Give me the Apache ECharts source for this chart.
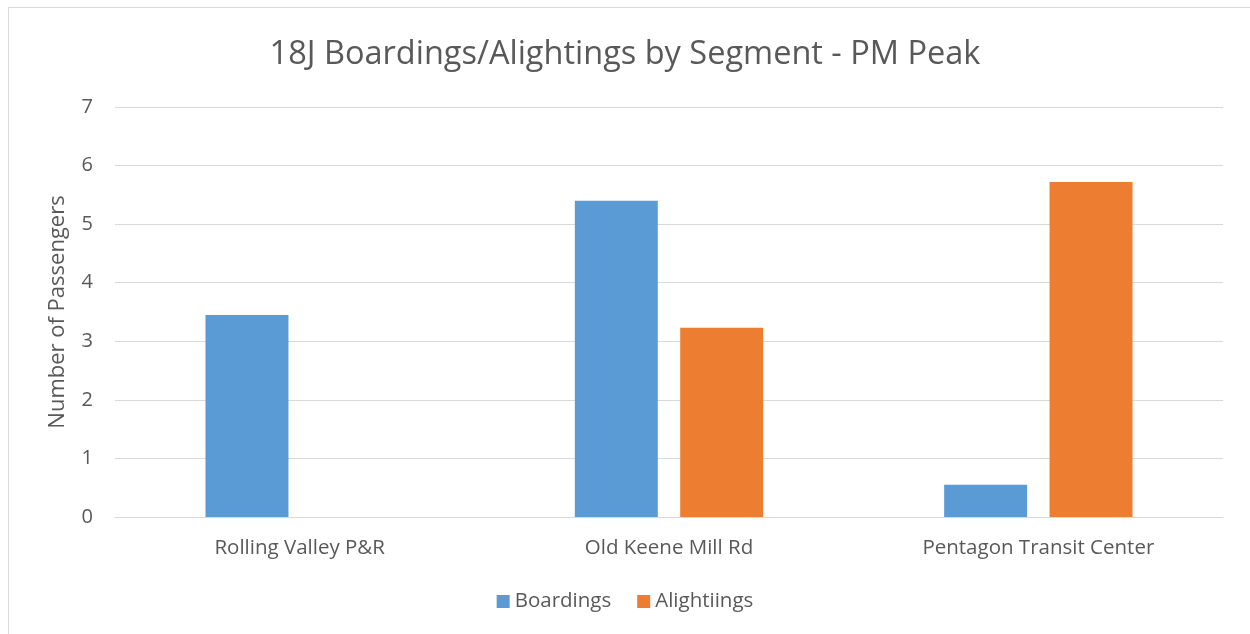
<!DOCTYPE html>
<html>
<head>
<meta charset="utf-8">
<script src="https://cdn.jsdelivr.net/npm/echarts@6/dist/echarts.min.js"></script>
<style>
  html, body { margin: 0; padding: 0; background: #ffffff; }
  #chart { width: 1250px; height: 634px; }
</style>
</head>
<body>
<div id="chart"></div>
<script>
// Segments along the 18J route
const segments = ['Rolling Valley P&R', 'Old Keene Mill Rd', 'Pentagon Transit Center'];
// Average passengers per segment, PM peak
const boardings = [3.45, 5.40, 0.55];
const alightings = [0, 3.23, 5.72];
const yTicks = [0, 1, 2, 3, 4, 5, 6, 7];

const fontFamily = '"Open Sans", "Noto Sans", sans-serif';
const textColor = '#595959';

const chart = echarts.init(document.getElementById('chart'));
chart.setOption({
  animation: false,
  backgroundColor: '#ffffff',
  graphic: [{
    type: 'rect',
    shape: { x: 8.5, y: 7.5, width: 1270, height: 660 },
    style: { fill: 'none', stroke: '#d9d9d9', lineWidth: 1 },
    silent: true
  }],
  title: {
    text: '18J Boardings/Alightings by Segment - PM Peak',
    left: 'center',
    top: 33,
    textStyle: { fontFamily, fontSize: 32.5, fontWeight: 'normal', color: textColor }
  },
  legend: {
    bottom: 17,
    left: 'center',
    itemWidth: 13,
    itemHeight: 13,
    itemGap: 26,
    icon: 'rect',
    textStyle: { fontFamily, fontSize: 20.5, color: textColor }
  },
  grid: { left: 115, right: 27, top: 107, bottom: 117 },
  xAxis: {
    type: 'category',
    data: segments,
    axisTick: { show: false },
    axisLine: { lineStyle: { color: '#d9d9d9', width: 1 } },
    axisLabel: { fontFamily, fontSize: 20.5, color: textColor, margin: 21 }
  },
  yAxis: {
    type: 'value',
    min: yTicks[0],
    max: yTicks[yTicks.length - 1],
    interval: 1,
    name: 'Number of Passengers',
    nameLocation: 'middle',
    nameGap: 46,
    nameTextStyle: { fontFamily, fontSize: 22, color: textColor },
    axisLine: { show: false },
    axisTick: { show: false },
    axisLabel: { fontFamily, fontSize: 20, color: textColor, margin: 22 },
    splitLine: { lineStyle: { color: '#d9d9d9', width: 1 } }
  },
  series: [
    {
      name: 'Boardings',
      type: 'bar',
      data: boardings,
      itemStyle: { color: '#5b9bd5' },
      barGap: '27%',
      barCategoryGap: '49%'
    },
    {
      name: 'Alightiings',
      type: 'bar',
      data: alightings,
      itemStyle: { color: '#ed7d31' }
    }
  ]
});
</script>
</body>
</html>
